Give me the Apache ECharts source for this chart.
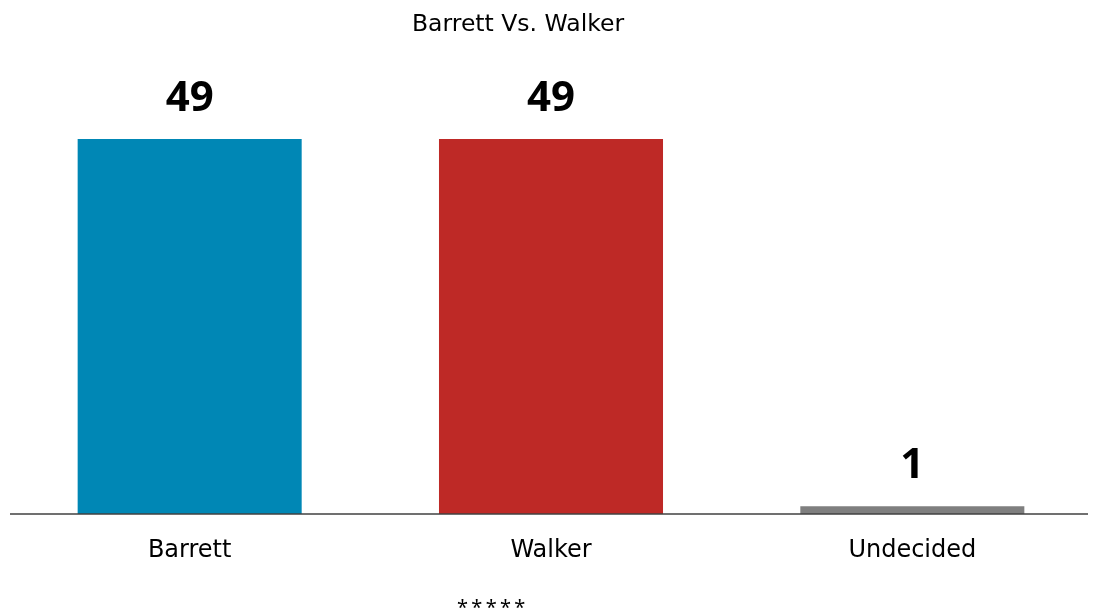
<!DOCTYPE html>
<html><head><meta charset="utf-8">
<script src="https://cdn.jsdelivr.net/npm/echarts@6/dist/echarts.min.js"></script>
<style>html,body{margin:0;padding:0;background:#fff}#c{width:1093px;height:612px}</style>
</head><body><div id="c"></div>
<script>
var categories = ['Barrett', 'Walker', 'Undecided'];
var values = [49, 49, 1];
var colors = ['#0087B5', '#BE2926', '#7F7F7F'];
var titleText = 'Barrett Vs. Walker';
var footnote = '*\u2009*\u2009*\u2009*\u2009*';

var FONT = 'Noto Sans';
var WIDE = 'DejaVu Sans';
var chart = echarts.init(document.getElementById('c'));
chart.setOption({
  backgroundColor: '#fff',
  animation: false,
  title: [{
    text: titleText, left: 407, top: 8,
    textStyle: {fontFamily: WIDE, fontSize: 23.5, fontWeight: 'normal', color: '#000'}
  }, {
    text: footnote, left: 452, top: 593,
    textStyle: {fontFamily: FONT, fontSize: 20, fontWeight: 'normal', color: '#000'}
  }],
  grid: {left: 9, width: 1087.5, bottom: 98, top: 131.3},
  xAxis: {
    type: 'category', data: categories,
    axisLine: {show: false},
    axisTick: {show: false},
    axisLabel: {fontFamily: WIDE, fontSize: 24, color: '#000', margin: 25}
  },
  yAxis: {type: 'value', min: 0, max: 50, show: false, splitLine: {show: false}},
  graphic: [{
    type: 'line', shape: {x1: 10, y1: 514, x2: 1088, y2: 514},
    style: {stroke: '#404040', lineWidth: 1.5}, z: 10
  }],
  series: [{
    type: 'bar', barWidth: '62%',
    data: values.map(function (v, i) { return {value: v, itemStyle: {color: colors[i]}}; }),
    label: {show: true, position: 'top', distance: 19, fontFamily: FONT, fontSize: 42, fontWeight: 'bold', color: '#000'}
  }]
});
</script></body></html>
